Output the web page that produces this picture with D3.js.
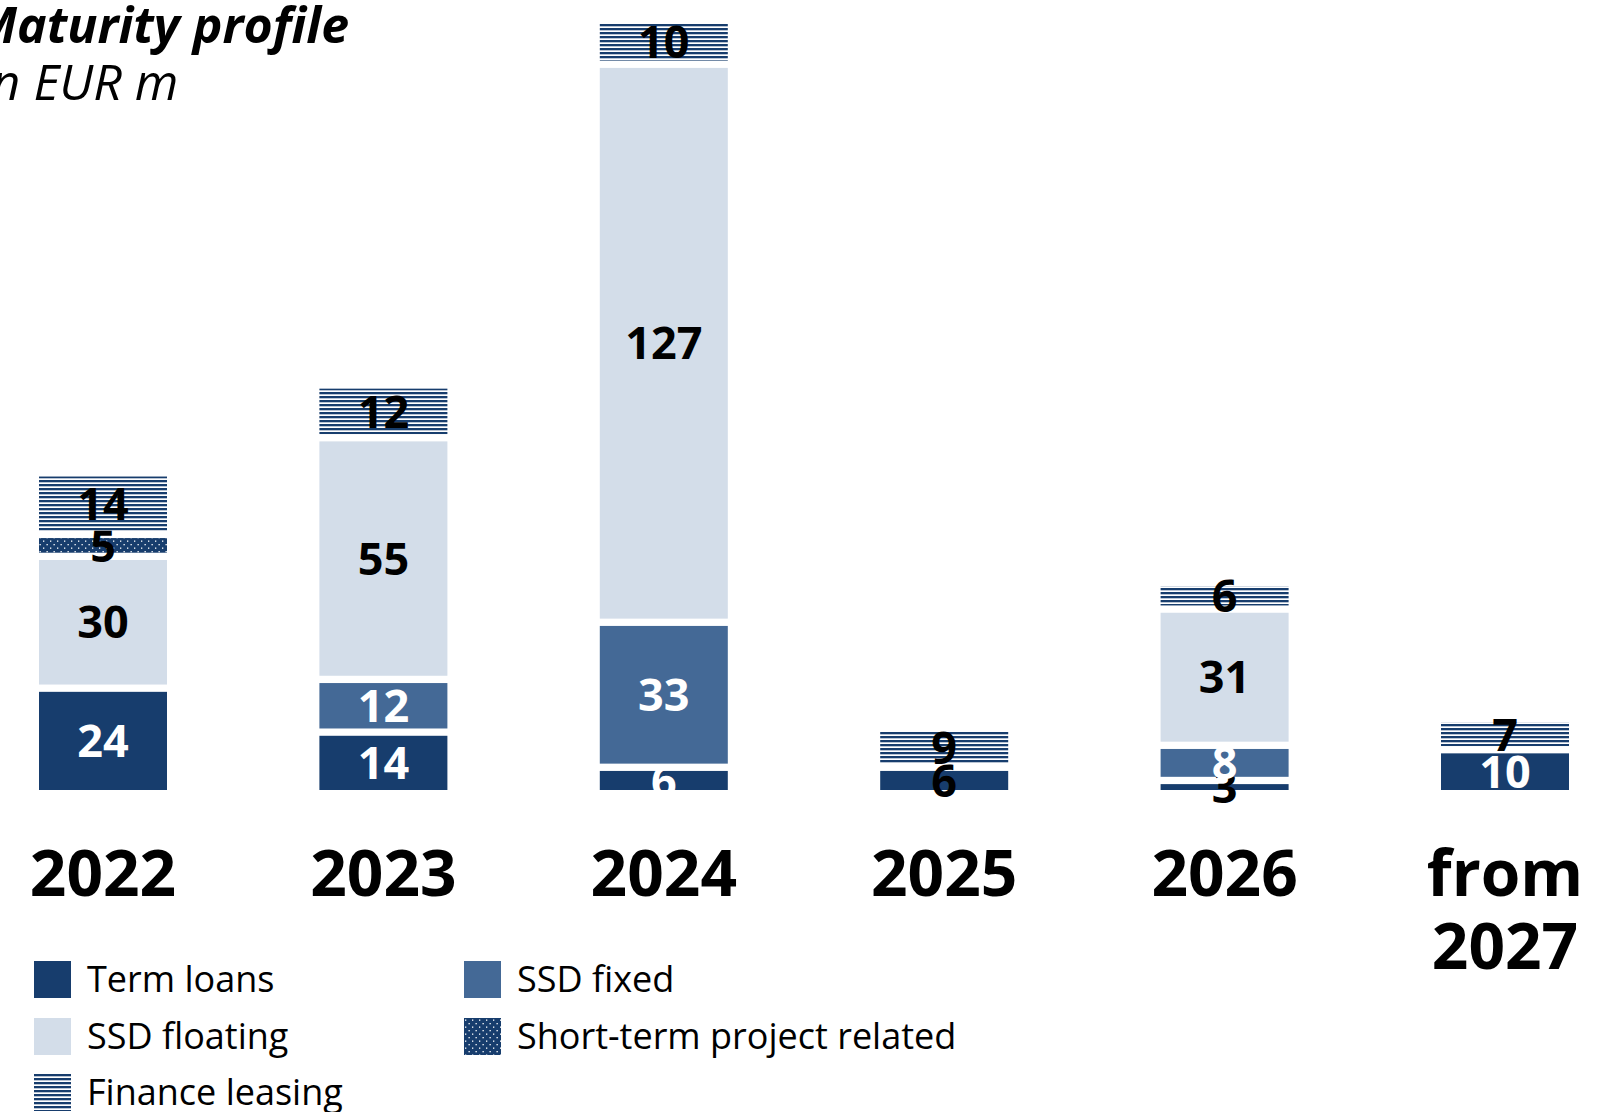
<!DOCTYPE html>
<html>
<head>
<meta charset="utf-8">
<script src="https://cdn.jsdelivr.net/npm/d3@7"></script>
<style>
  body { margin: 0; background: #fff; }
  svg { display: block; }
  text { font-family: "Open Sans", "Noto Sans", sans-serif; }
</style>
</head>
<body>
<div id="chart"></div>
<script>
var width = 1611,
    height = 1112;

// data (EUR m)
var years = ["2022", "2023", "2024", "2025", "2026", "from 2027"];
var termLoans = [24, 14, 6, 6, 3, 10];
var ssdFixed = [0, 12, 33, 0, 8, 0];
var ssdFloating = [30, 55, 127, 0, 31, 0];
var shortTerm = [5, 0, 0, 0, 0, 0];
var financeLeasing = [14, 12, 10, 9, 6, 7];

var seriesNames = ["Term loans", "SSD fixed", "SSD floating", "Short-term project related", "Finance leasing"];
var seriesKeys = ["term", "fixed", "floating", "short", "leasing"];

var navy = "#173d6d";
var fills = {
    term: navy,
    fixed: "#446996",
    floating: "#d3dde9",
    short: "url(#dots)",
    leasing: "url(#stripes)"
};
var labelColor = {
    term: "#fff",
    fixed: "#fff",
    floating: "#000",
    short: "#000",
    leasing: "#000"
};

var table = years.map(function(y, i) {
    return {
        year: y,
        term: termLoans[i],
        fixed: ssdFixed[i],
        floating: ssdFloating[i],
        short: shortTerm[i],
        leasing: financeLeasing[i]
    };
});

var svg = d3.select("#chart")
    .append("svg")
    .attr("width", width)
    .attr("height", height);

var defs = svg.append("defs");
var stripes = defs.append("pattern")
    .attr("id", "stripes")
    .attr("patternUnits", "userSpaceOnUse")
    .attr("width", 8)
    .attr("height", 4);
stripes.append("rect").attr("width", 8).attr("height", 4).attr("fill", "#fff");
stripes.append("rect").attr("y", 0).attr("width", 8).attr("height", 2.3).attr("fill", navy);

var dots = defs.append("pattern")
    .attr("id", "dots")
    .attr("patternUnits", "userSpaceOnUse")
    .attr("width", 7)
    .attr("height", 7);
dots.append("rect").attr("width", 7).attr("height", 7).attr("fill", navy);
dots.append("rect").attr("x", 1).attr("y", 1.5).attr("width", 1.3).attr("height", 1.3).attr("fill", "#fff");
dots.append("rect").attr("x", 4.5).attr("y", 5).attr("width", 1.3).attr("height", 1.3).attr("fill", "#fff");

var baseY = 790,
    unit = 4.394,
    gap = 7.3,
    barW = 128;

var x = d3.scalePoint().domain(years).range([103, 1505]);
var y = d3.scaleLinear().domain([0, 176]).range([baseY, baseY - 176 * unit]);

var stack = d3.stack().keys(seriesKeys)(table);

var layers = svg.selectAll("g.layer")
    .data(stack)
    .enter().append("g")
    .attr("class", "layer");

layers.each(function(layer) {
    var key = layer.key;
    var g = d3.select(this);
    var segs = layer.filter(function(d) { return d[1] - d[0] > 0; });

    g.selectAll("rect")
        .data(segs)
        .enter().append("rect")
        .attr("x", function(d) { return x(d.data.year) - barW / 2; })
        .attr("y", function(d) { return y(d[1]) + gap; })
        .attr("width", barW)
        .attr("height", function(d) { return y(d[0]) - y(d[1]) - gap; })
        .attr("fill", fills[key]);

    g.selectAll("text")
        .data(segs)
        .enter().append("text")
        .attr("x", function(d) { return x(d.data.year); })
        .attr("y", function(d) { return (y(d[1]) + gap + y(d[0])) / 2; })
        .attr("dy", "0.36em")
        .attr("text-anchor", "middle")
        .style("font-size", "45px")
        .style("font-weight", "bold")
        .attr("fill", function(d) {
            // tiny term-loan slices get dark labels
            if (key == "term" && (d.data.year == "2025" || d.data.year == "2026")) return "#000";
            return labelColor[key];
        })
        .text(function(d) { return d[1] - d[0]; });
});

// x labels
var xl = svg.append("g").selectAll("text")
    .data(years)
    .enter().append("text")
    .attr("x", function(d) { return x(d); })
    .attr("y", 896)
    .attr("text-anchor", "middle")
    .style("font-size", "64px")
    .style("font-weight", "bold")
    .attr("fill", "#000");
xl.each(function(d) {
    var parts = d.split(" ");
    var t = d3.select(this);
    parts.forEach(function(p, i) {
        t.append("tspan").attr("x", x(d)).attr("dy", i == 0 ? 0 : 73).text(p);
    });
});

// title
svg.append("text")
    .attr("x", -27)
    .attr("y", 43)
    .style("font-size", "50px")
    .style("font-weight", "bold")
    .style("font-style", "italic")
    .text("Maturity profile");
svg.append("text")
    .attr("x", -21)
    .attr("y", 100)
    .style("font-size", "50px")
    .style("font-style", "italic")
    .text("in EUR m");

// legend
var legendItems = [
    { key: "term", name: seriesNames[0], lx: 34, ly: 961 },
    { key: "fixed", name: seriesNames[1], lx: 464, ly: 961 },
    { key: "floating", name: seriesNames[2], lx: 34, ly: 1018 },
    { key: "short", name: seriesNames[3], lx: 464, ly: 1018 },
    { key: "leasing", name: seriesNames[4], lx: 34, ly: 1074 }
];
var lg = svg.append("g").selectAll("g")
    .data(legendItems)
    .enter().append("g")
    .attr("transform", function(d) { return "translate(" + d.lx + "," + d.ly + ")"; });
lg.append("rect")
    .attr("width", 37)
    .attr("height", 37)
    .attr("fill", function(d) { return fills[d.key]; });
lg.append("text")
    .attr("x", 53)
    .attr("y", 18.5)
    .attr("dy", "0.36em")
    .style("font-size", "36px")
    .attr("fill", "#000")
    .text(function(d) { return d.name; });
</script>
</body>
</html>
